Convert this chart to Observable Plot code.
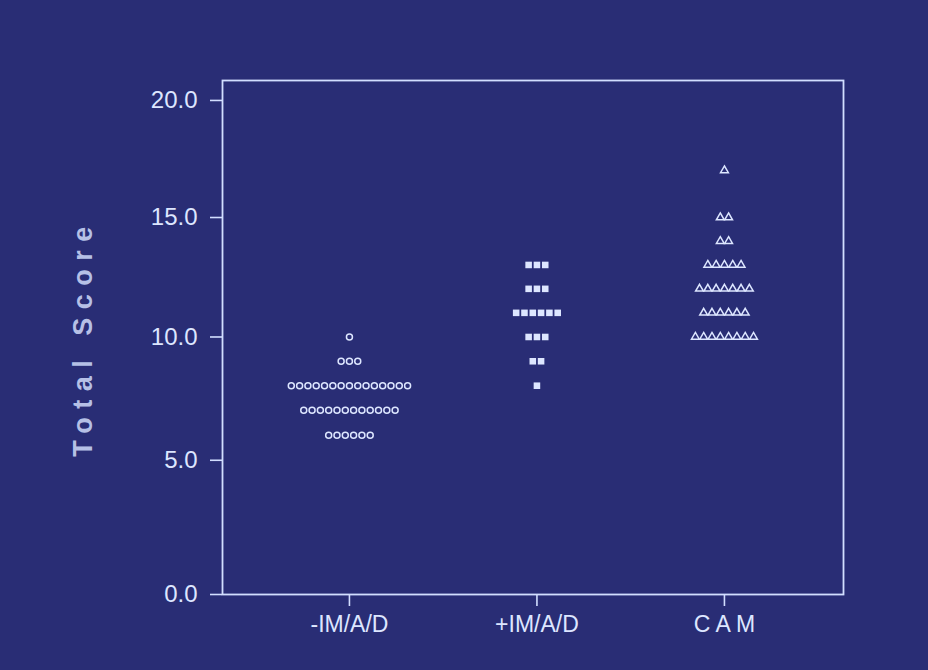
<!DOCTYPE html>
<html>
<head>
<meta charset="utf-8">
<script src="https://cdn.jsdelivr.net/npm/d3@7"></script>
<script src="https://cdn.jsdelivr.net/npm/@observablehq/plot@0.6"></script>
<style>
  html, body { margin: 0; padding: 0; background: #292d75; }
  #chart { width: 928px; height: 670px; }
</style>
</head>
<body>
<div id="chart"></div>
<script>
// Categories (x axis)
const categories = ["-IM/A/D", "+IM/A/D", "C A M"];

// Scores and the number of subjects at each score, per group
const imadNegScores = [10, 9, 8, 7, 6];
const imadNegCounts = [1, 3, 15, 12, 6];
const imadPosScores = [13, 12, 11, 10, 9, 8];
const imadPosCounts = [3, 3, 6, 3, 2, 1];
const camScores = [17, 15, 14, 13, 12, 11, 10];
const camCounts = [1, 2, 2, 5, 7, 6, 8];

// Y tick values
const yTicks = [0, 5, 10, 15, 20];

const groups = [
  {scores: imadNegScores, counts: imadNegCounts},
  {scores: imadPosScores, counts: imadPosCounts},
  {scores: camScores, counts: camCounts}
];

const slotWidth = 0.0443; // horizontal spacing between stacked dots (x units)
const rows = [];
groups.forEach((g, gi) => {
  g.scores.forEach((s, k) => {
    const n = g.counts[k];
    for (let i = 0; i < n; i++) {
      rows.push({group: gi, category: categories[gi], score: s, pos: gi + (i - (n - 1) / 2) * slotWidth});
    }
  });
});

const fg = "#dde6ff";
const line = "#d2deff";

const chart = Plot.plot({
  width: 928,
  height: 670,
  marginLeft: 222,
  marginRight: 85,
  marginTop: 80,
  marginBottom: 76,
  style: {background: "#292d75", color: fg, fontFamily: "'Liberation Sans', Arial, sans-serif", fontSize: "23px"},
  x: {type: "linear", domain: [-0.677, 2.635]},
  y: {type: "pow", exponent: 0.94, domain: [0, 20.86]},
  marks: [
    Plot.frame({stroke: line, strokeWidth: 1.8}),
    Plot.axisX({ticks: [0, 1, 2], tickFormat: d => categories[d], tickSize: 12, tickPadding: 9, fontSize: 23, label: null, stroke: line, strokeWidth: 1.6}),
    Plot.axisY({ticks: yTicks, tickFormat: d3.format(".1f"), tickSize: 12, tickPadding: 13, fontSize: 24, label: "Total Score", labelAnchor: "center", labelArrow: "none", labelOffset: 150, stroke: line, strokeWidth: 1.6}),
    Plot.dot(rows.filter(d => d.group === 0), {x: "pos", y: "score", symbol: "circle", r: 3.0, stroke: fg, strokeWidth: 1.5, fill: "none"}),
    Plot.dot(rows.filter(d => d.group === 1), {x: "pos", y: "score", symbol: "square", r: 3.7, fill: fg, stroke: "none"}),
    Plot.dot(rows.filter(d => d.group === 2), {x: "pos", y: "score", symbol: "triangle", r: 2.9, stroke: fg, strokeWidth: 1.5, fill: "none"})
  ]
});

document.getElementById("chart").appendChild(chart);

// style the y-axis title like the reference (bold, widely spaced)
d3.select(chart).selectAll('[aria-label="y-axis label"] text')
  .style("font-weight", "bold")
  .style("font-size", "27px")
  .style("letter-spacing", "8.5px")
  .style("fill", "#b6c0e6")
  .style("font-family", "'Liberation Sans', Arial, sans-serif");
</script>
</body>
</html>
